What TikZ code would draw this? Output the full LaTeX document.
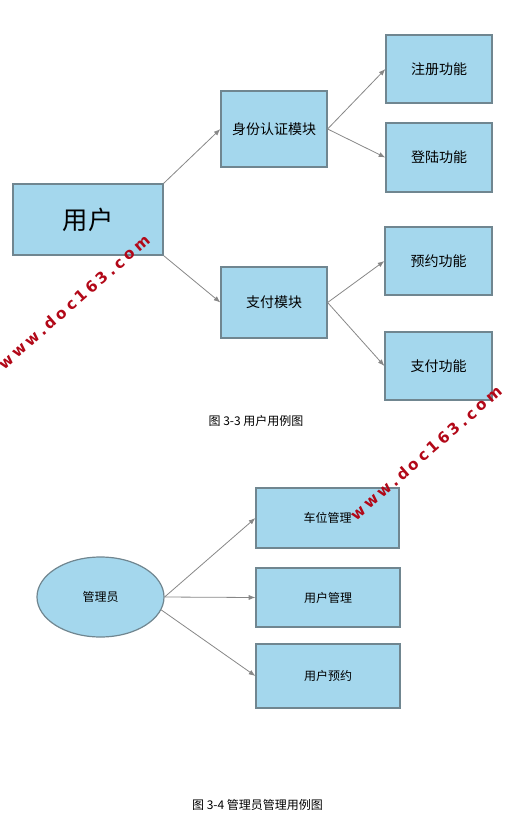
\documentclass[tikz,border=0pt]{standalone}
\usepackage{fontspec}
\setmainfont{Noto Sans CJK SC}
\newfontfamily\wmfont[LetterSpace=22]{DejaVu Sans Bold}
\usetikzlibrary{arrows.meta}
\usetikzlibrary{shapes.geometric}
\definecolor{boxfill}{RGB}{164,215,237}
\definecolor{boxline}{RGB}{112,134,144}
\definecolor{linkgray}{RGB}{135,135,135}
\definecolor{wmred}{RGB}{178,8,24}
\tikzstyle{module}=[draw=boxline, fill=boxfill, line width=0.9pt, inner sep=0, font=\fontsize{10.5}{12}\selectfont]
\tikzstyle{small module}=[module, font=\fontsize{9}{11}\selectfont]
\tikzstyle{actor}=[draw=boxline, fill=boxfill, line width=0.9pt, ellipse, inner sep=0, font=\fontsize{9}{11}\selectfont]
\tikzstyle{link}=[draw=linkgray, line width=0.6pt, -{Latex[length=5pt,width=3.8pt]}]
\tikzstyle{caption}=[font=\fontsize{9}{11}\selectfont]
\tikzstyle{watermark}=[text=wmred, font=\wmfont\fontsize{11.5}{13}\selectfont, rotate=41]

\begin{document}
\begin{tikzpicture}[x=0.75pt, y=-0.75pt]
      \useasboundingbox (0, 0) rectangle (524, 826);

      % use case of the user
      \node[module, minimum width=112.5pt, minimum height=53.25pt, font=\fontsize{19}{22}\selectfont] (user) at (88, 219.5) {用户};
      \node[module, minimum width=79.5pt, minimum height=57pt] (auth) at (274, 129) {身份认证模块};
      \node[module, minimum width=79.5pt, minimum height=53.25pt] (pay) at (274, 302.5) {支付模块};
      \node[module, minimum width=79.5pt, minimum height=51pt] (register) at (439, 69) {注册功能};
      \node[module, minimum width=79.5pt, minimum height=51.75pt] (login) at (439, 157.5) {登陆功能};
      \node[module, minimum width=80.25pt, minimum height=51pt] (booking) at (438.5, 261) {预约功能};
      \node[module, minimum width=80.25pt, minimum height=51pt] (payment) at (438.5, 366) {支付功能};

      \draw[link] (user.north east) to (auth.west);
      \draw[link] (user.south east) to (pay.west);
      \draw[link] (auth.east) to (register.west);
      \draw[link] (auth.east) to (login.west);
      \draw[link] (pay.east) to (booking.west);
      \draw[link] (pay.east) to (payment.west);

      \node[caption] (cap_user) at (256, 421) {图 3-3 用户用例图};

      % use case of the administrator
      \node[actor, minimum width=95.25pt, minimum height=60pt] (admin) at (100.5, 597) {管理员};
      \node[small module, minimum width=107.25pt, minimum height=45pt] (spot) at (327.5, 518) {车位管理};
      \node[small module, minimum width=108pt, minimum height=44.25pt] (user_mgr) at (328, 597.5) {用户管理};
      \node[small module, minimum width=108pt, minimum height=48pt] (user_book) at (328, 676) {用户预约};

      \draw[link] (admin.east) to (spot.west);
      \draw[link] (admin.east) to (user_mgr.west);
      \draw[link] (admin.-12) to (user_book.west);

      \node[caption] (cap_admin) at (257.5, 805) {图 3-4 管理员管理用例图};

      % watermarks
      \node[watermark] (mark_a) at (74, 302) {www.doc163.com};
      \node[watermark] (mark_b) at (426, 453) {www.doc163.com};
    \end{tikzpicture}
\end{document}
